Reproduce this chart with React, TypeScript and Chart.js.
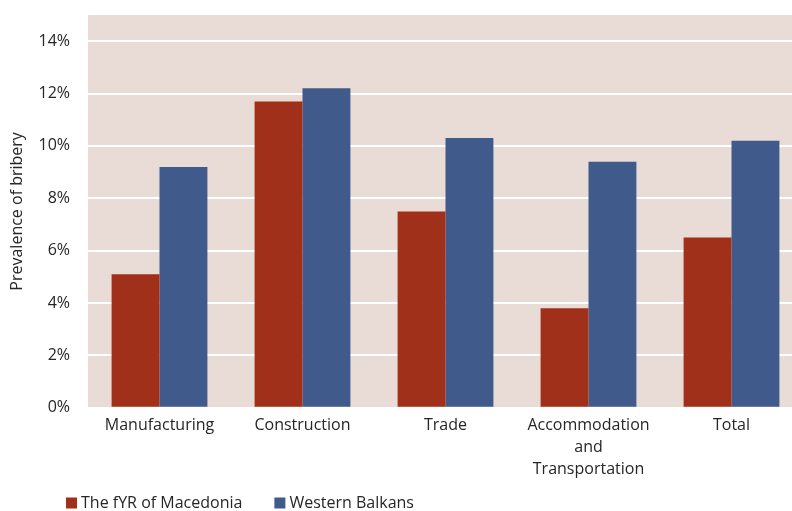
import React, { useEffect, useRef } from "react";
import { Chart, registerables } from "chart.js";
Chart.register(...registerables);

const categories: (string | string[])[] = [
  "Manufacturing",
  "Construction",
  "Trade",
  ["Accommodation", "and", "Transportation"],
  "Total",
];
const seriesNames = ["The fYR of Macedonia", "Western Balkans"];
const macedonia = [5.1, 11.7, 7.5, 3.8, 6.5];
const westernBalkans = [9.2, 12.2, 10.3, 9.4, 10.2];
const yMin = 0;
const yMax = 15;
const yStep = 2;
const yLastTick = 14;
const yTitle = "Prevalence of bribery";

const RED = "#A0301A";
const BLUE = "#405A8C";
const PLOT_BG = "#E9DBD5";
const TEXT = "#262626";
const FONT = "'Open Sans', sans-serif";
const FS = 16;

const plotBg = {
  id: "plotBg",
  beforeDraw(chart: any) {
    const { ctx, chartArea } = chart;
    ctx.save();
    ctx.fillStyle = PLOT_BG;
    ctx.fillRect(chartArea.left, chartArea.top, chartArea.right - chartArea.left, chartArea.bottom - chartArea.top);
    ctx.restore();
  },
};

const bottomLegend = {
  id: "bottomLegend",
  afterDraw(chart: any) {
    const { ctx } = chart;
    const startX = 66;
    const cy = 503;
    const box = 11;
    const gapText = 4;
    const gapItem = 32;
    ctx.save();
    ctx.font = `${FS}px ${FONT}`;
    ctx.textBaseline = "middle";
    ctx.textAlign = "left";
    let x = startX;
    chart.data.datasets.forEach((ds: any) => {
      ctx.fillStyle = ds.backgroundColor;
      ctx.fillRect(x, cy - box / 2, box, box);
      x += box + gapText;
      ctx.fillStyle = TEXT;
      ctx.fillText(ds.label, x, cy);
      x += ctx.measureText(ds.label).width + gapItem;
    });
    ctx.restore();
  },
};

export default function App() {
  const ref = useRef<HTMLCanvasElement | null>(null);
  useEffect(() => {
    if (!ref.current) return;
    const chart = new Chart(ref.current, {
      type: "bar",
      data: {
        labels: categories as any,
        datasets: [
          { label: seriesNames[0], data: macedonia, backgroundColor: RED, borderWidth: 0 },
          { label: seriesNames[1], data: westernBalkans, backgroundColor: BLUE, borderWidth: 0 },
        ],
      },
      options: {
        animation: false,
        responsive: false,
        devicePixelRatio: 1,
        layout: { padding: { left: 8, right: 7, top: 15, bottom: 24 } },
        datasets: { bar: { categoryPercentage: 0.67, barPercentage: 1 } } as any,
        plugins: {
          legend: { display: false },
          tooltip: { enabled: false },
        },
        scales: {
          x: {
            grid: { display: false, drawTicks: false },
            border: { display: false },
            ticks: { color: TEXT, font: { family: FONT, size: FS, lineHeight: 1.4 }, padding: 6, maxRotation: 0, autoSkip: false },
          },
          y: {
            min: yMin,
            max: yMax,
            afterBuildTicks: (scale: any) => {
              scale.ticks = scale.ticks.filter((t: any) => t.value <= yLastTick);
            },
            afterFit: (scale: any) => {
              scale.width = 80;
              scale.paddingTop = 0;
              scale.paddingBottom = 0;
            },
            ticks: {
              stepSize: yStep,
              color: TEXT,
              font: { family: FONT, size: FS },
              padding: 18,
              callback: (v: any) => `${v}%`,
            },
            grid: { color: "#FFFFFF", lineWidth: 2, drawTicks: false },
            border: { display: false },
            title: {
              display: true,
              text: yTitle,
              color: TEXT,
              font: { family: FONT, size: FS },
              padding: { top: 0, bottom: 0 },
            },
          },
        },
      },
      plugins: [plotBg, bottomLegend],
    });
    return () => chart.destroy();
  }, []);
  return (
    <div style={{ position: "fixed", left: 0, top: 0, width: 792, height: 511, overflow: "hidden", background: "#fff" }}>
      <canvas ref={ref} width={810} height={511} style={{ display: "block", width: 810, height: 511 }} />
    </div>
  );
}
